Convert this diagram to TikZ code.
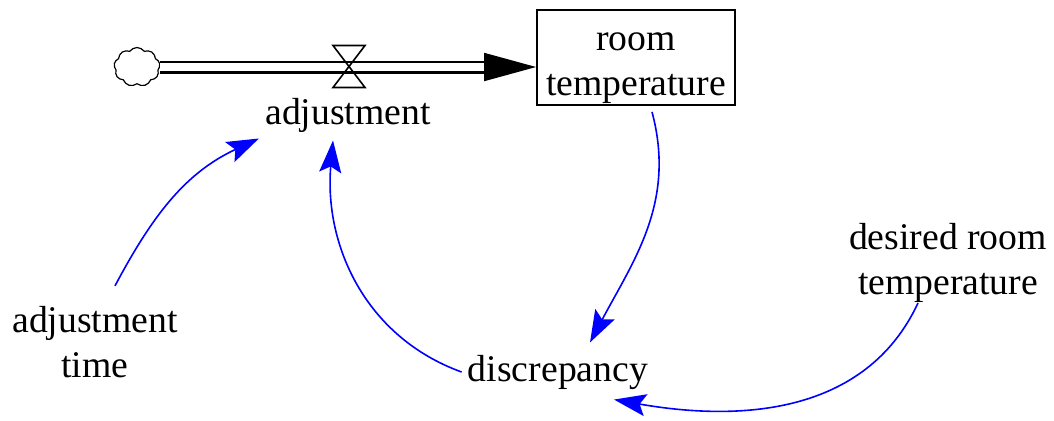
\documentclass[tikz,border=0pt]{standalone}
\usepackage{fontspec}
\setmainfont{Liberation Serif}
\usetikzlibrary{arrows.meta, shapes.symbols, calc}

\tikzset{
  varlabel/.style={font=\fontsize{18.85}{22.5}\selectfont, align=center, inner sep=3pt},
  stockbox/.style={draw, line width=0.9pt, minimum width=99pt, minimum height=47.5pt},
  link/.style={blue, line width=0.8pt, -{Stealth[length=16pt, width=11pt, inset=3pt]}}
}

\begin{document}
\begin{tikzpicture}[x=0.5pt, y=-0.5pt]
  \useasboundingbox (0,0) rectangle (1054,420);

  % Bestand und Quelle
  \node (stock) [stockbox] at (636,57.5) {};
  \node (stocklbl) [varlabel] at ($(stock)+(0,11)$) {room\\temperature};
  \node (src) [cloud, draw, cloud puffs=9, cloud puff arc=110, aspect=1.2,
    minimum width=23pt, minimum height=19.5pt, line width=0.6pt] at (137,67) {};

  % Fluss mit Ventil
  \coordinate (tip) at (stock.west |- src.east);
  \coordinate (pipeend) at ($(tip)+(-52,0)$);
  \draw[double, double distance=4.3pt, line width=1.1pt] (src.east) -- (pipeend);
  \draw[line width=0.9pt, -{Triangle[length=26pt, width=14pt]}] (pipeend) -- (tip);
  \coordinate (valve) at (349,66.5);
  \draw[line width=0.8pt] ($(valve)+(-16,-21)$) -- ($(valve)+(16,-21)$)
    -- ($(valve)+(-16,21)$) -- ($(valve)+(16,21)$) -- cycle;

  % Variablen
  \node (adj) [varlabel] at (348,115) {adjustment};
  \node (adjt) [varlabel] at (95,342) {adjustment\\time};
  \node (disc) [varlabel] at (558,372) {discrepancy};
  \node (desired) [varlabel] at (948,263) {desired room\\temperature};

  % Wirkungen
  \draw[link] ($(adjt.north)+(20,-14)$) to[out=62, in=205] (adj.south west);
  \draw[link] (disc.west) to[out=160, in=-95] ($(adj.south)+(-15,2)$);
  \draw[link] ($(stock.south)+(16,6)$) to[out=-75, in=62] ($(disc.north)+(32,-6)$);
  \draw[link] ($(desired.south)+(-30,-6)$) to[out=-115, in=-10] ($(disc.south)+(56,4)$);
\end{tikzpicture}
\end{document}
